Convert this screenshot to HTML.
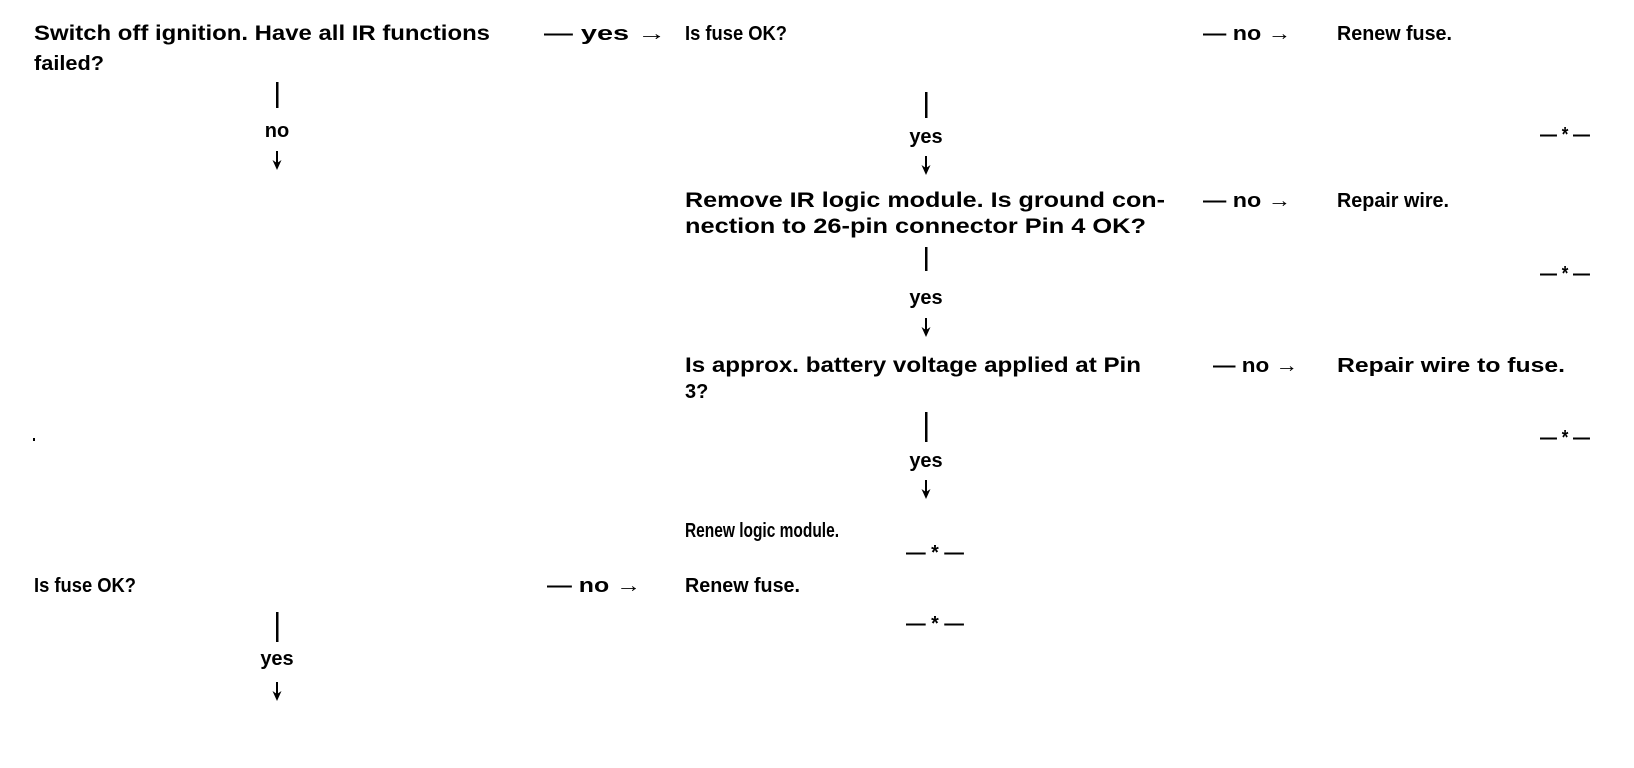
<!DOCTYPE html>
<html><head><meta charset="utf-8"><style>
html,body{margin:0;padding:0;background:#fff;width:1634px;height:768px;overflow:hidden}
svg text{font-family:"Liberation Sans",Arial,sans-serif;font-weight:bold;font-size:20px;fill:#000}
svg text.l{font-size:21px}
</style></head><body>
<svg width="1634" height="768" viewBox="0 0 1634 768" xmlns="http://www.w3.org/2000/svg">
<defs>
<g id="dn"><rect x="-1" y="0" width="2" height="14"/><path d="M-4.5 9 L0 19 L4.5 9 L0 12 Z"/></g>
</defs>
<g>
<text class="l" x="34" y="40" textLength="456" lengthAdjust="spacingAndGlyphs">Switch off ignition. Have all IR functions</text>
<text x="34" y="70" textLength="70" lengthAdjust="spacingAndGlyphs">failed?</text>
<text x="544" y="40" textLength="122" lengthAdjust="spacingAndGlyphs">— yes →</text>
<text x="685" y="40" textLength="102" lengthAdjust="spacingAndGlyphs">Is fuse OK?</text>
<text x="1203" y="40" textLength="88" lengthAdjust="spacingAndGlyphs">— no →</text>
<text x="1337" y="40" textLength="115" lengthAdjust="spacingAndGlyphs">Renew fuse.</text>

<rect x="276" y="82" width="2.5" height="26"/>
<text x="277" y="137" text-anchor="middle">no</text>
<use href="#dn" x="277" y="151"/>

<rect x="925" y="92" width="2.5" height="26"/>
<text x="926" y="143" text-anchor="middle">yes</text>
<use href="#dn" x="926" y="156"/>
<text x="1540" y="141" textLength="50" lengthAdjust="spacingAndGlyphs" font-size="14">— * —</text>

<text class="l" x="685" y="207" textLength="480" lengthAdjust="spacingAndGlyphs">Remove IR logic module. Is ground con-</text>
<text class="l" x="685" y="233" textLength="461" lengthAdjust="spacingAndGlyphs">nection to 26-pin connector Pin 4 OK?</text>
<text x="1203" y="207" textLength="88" lengthAdjust="spacingAndGlyphs">— no →</text>
<text x="1337" y="207" textLength="112" lengthAdjust="spacingAndGlyphs">Repair wire.</text>
<rect x="925" y="247" width="2.5" height="24"/>
<text x="926" y="304" text-anchor="middle">yes</text>
<use href="#dn" x="926" y="318"/>
<text x="1540" y="280" textLength="50" lengthAdjust="spacingAndGlyphs" font-size="14">— * —</text>

<text class="l" x="685" y="372" textLength="456" lengthAdjust="spacingAndGlyphs">Is approx. battery voltage applied at Pin</text>
<text x="685" y="398">3?</text>
<text x="1213" y="372" textLength="85" lengthAdjust="spacingAndGlyphs">— no →</text>
<text x="1337" y="372" textLength="228" lengthAdjust="spacingAndGlyphs">Repair wire to fuse.</text>
<rect x="33" y="438" width="2" height="3"/>
<rect x="925" y="412" width="2.5" height="30"/>
<text x="926" y="467" text-anchor="middle">yes</text>
<use href="#dn" x="926" y="480"/>
<text x="1540" y="444" textLength="50" lengthAdjust="spacingAndGlyphs" font-size="14">— * —</text>

<text x="685" y="537" textLength="154" lengthAdjust="spacingAndGlyphs">Renew logic module.</text>
<text x="906" y="559" textLength="58" lengthAdjust="spacingAndGlyphs" font-size="14">— * —</text>

<text x="34" y="592" textLength="102" lengthAdjust="spacingAndGlyphs">Is fuse OK?</text>
<text x="547" y="592" textLength="94" lengthAdjust="spacingAndGlyphs">— no →</text>
<text x="685" y="592" textLength="115" lengthAdjust="spacingAndGlyphs">Renew fuse.</text>
<text x="906" y="630" textLength="58" lengthAdjust="spacingAndGlyphs" font-size="14">— * —</text>
<rect x="276" y="612" width="2.5" height="30"/>
<text x="277" y="665" text-anchor="middle">yes</text>
<use href="#dn" x="277" y="682"/>
</g>
</svg>
</body></html>
